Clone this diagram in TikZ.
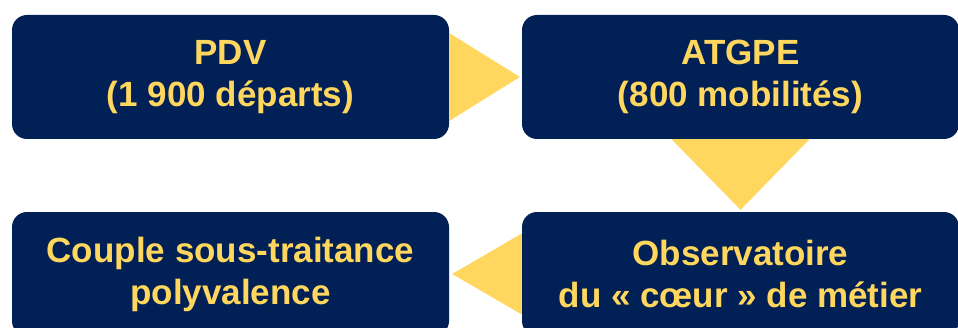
\documentclass[tikz,border=0pt]{standalone}
\usepackage{fontspec}
\setmainfont{Liberation Sans}
\usetikzlibrary{calc}
\definecolor{navy}{RGB}{0,32,86}
\definecolor{gold}{RGB}{255,214,94}
\begin{document}
\begin{tikzpicture}[x=1pt,y=1pt,
  stepbox/.style={fill=navy, rounded corners=15pt, minimum width=437pt, minimum height=124pt,
    inner sep=0pt, text=gold, align=center,
    font=\fontsize{35}{42}\selectfont\bfseries},
  flowtri/.style={fill=gold, draw=none}]
\useasboundingbox (0,0) rectangle (958,327);
\clip (0,0) rectangle (958,327);
\node[stepbox] (pdv) at (230.5,250) {PDV\\(1 900 départs)};
\node[stepbox] (atgpe) at (740.5,250) {ATGPE\\(800 mobilités)};
\node[stepbox] (couple) at (230.5,53) {Couple sous-traitance\\polyvalence};
\node[stepbox] (obs) at (740.5,53) {Observatoire\\du « cœur » de métier};
\fill[flowtri] ($(pdv.east)+(0,44)$) -- ($(atgpe.west)+(-2,0)$) -- ($(pdv.east)+(0,-44)$) -- cycle;
\fill[flowtri] ($(atgpe.south)+(-69,0)$) -- ($(atgpe.south)+(69,0)$) -- ($(obs.north)+(0,2)$) -- cycle;
\fill[flowtri] ($(obs.west)+(0,40.5)$) -- ($(couple.east)+(3,0)$) -- ($(obs.west)+(0,-40.5)$) -- cycle;
\end{tikzpicture}
\end{document}
